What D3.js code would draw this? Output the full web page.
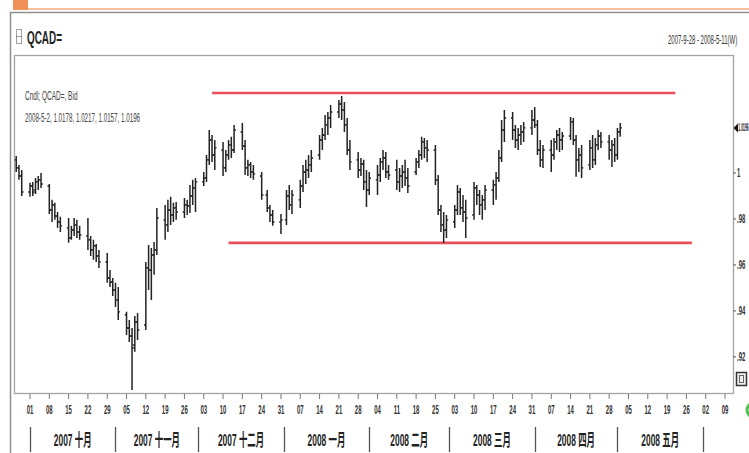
<!DOCTYPE html>
<html><head><meta charset="utf-8">
<script src="https://cdn.jsdelivr.net/npm/d3@7"></script>
<style>body{margin:0;background:#fff;}svg{display:block;}</style>
</head><body>
<svg id="c" width="749" height="453"></svg>
<script>
const dates = ["2007-09-26","2007-09-27","2007-09-28","2007-10-01","2007-10-02","2007-10-03","2007-10-04","2007-10-05","2007-10-08","2007-10-09","2007-10-10","2007-10-11","2007-10-12","2007-10-15","2007-10-16","2007-10-17","2007-10-18","2007-10-19","2007-10-22","2007-10-23","2007-10-24","2007-10-25","2007-10-26","2007-10-29","2007-10-30","2007-10-31","2007-11-01","2007-11-02","2007-11-05","2007-11-06","2007-11-07","2007-11-08","2007-11-09","2007-11-12","2007-11-13","2007-11-14","2007-11-15","2007-11-16","2007-11-19","2007-11-20","2007-11-21","2007-11-22","2007-11-23","2007-11-26","2007-11-27","2007-11-28","2007-11-29","2007-11-30","2007-12-03","2007-12-04","2007-12-05","2007-12-06","2007-12-07","2007-12-10","2007-12-11","2007-12-12","2007-12-13","2007-12-14","2007-12-17","2007-12-18","2007-12-19","2007-12-20","2007-12-21","2007-12-24","2007-12-26","2007-12-27","2007-12-28","2007-12-31","2008-01-02","2008-01-03","2008-01-04","2008-01-07","2008-01-08","2008-01-09","2008-01-10","2008-01-11","2008-01-14","2008-01-15","2008-01-16","2008-01-17","2008-01-18","2008-01-21","2008-01-22","2008-01-23","2008-01-24","2008-01-25","2008-01-28","2008-01-29","2008-01-30","2008-01-31","2008-02-01","2008-02-04","2008-02-05","2008-02-06","2008-02-07","2008-02-08","2008-02-11","2008-02-12","2008-02-13","2008-02-14","2008-02-15","2008-02-18","2008-02-19","2008-02-20","2008-02-21","2008-02-22","2008-02-25","2008-02-26","2008-02-27","2008-02-28","2008-02-29","2008-03-03","2008-03-04","2008-03-05","2008-03-06","2008-03-07","2008-03-10","2008-03-11","2008-03-12","2008-03-13","2008-03-14","2008-03-17","2008-03-18","2008-03-19","2008-03-20","2008-03-21","2008-03-24","2008-03-25","2008-03-26","2008-03-27","2008-03-28","2008-03-31","2008-04-01","2008-04-02","2008-04-03","2008-04-04","2008-04-07","2008-04-08","2008-04-09","2008-04-10","2008-04-11","2008-04-14","2008-04-15","2008-04-16","2008-04-17","2008-04-18","2008-04-21","2008-04-22","2008-04-23","2008-04-24","2008-04-25","2008-04-28","2008-04-29","2008-04-30","2008-05-01","2008-05-02"];
const open = [1.0057,1.0022,0.9987,0.9917,0.9943,0.9926,0.9961,0.9970,0.9943,0.9839,0.9861,0.9813,0.9787,0.9761,0.9717,0.9752,0.9774,0.9743,0.9726,0.9709,0.9665,0.9683,0.9639,0.9613,0.9543,0.9526,0.9491,0.9448,0.9383,0.9326,0.9291,0.9252,0.9352,0.9339,0.9587,0.9578,0.9643,0.9665,0.9796,0.9774,0.9839,0.9817,0.9848,0.9830,0.9861,0.9857,0.9900,0.9935,0.9961,0.9978,1.0057,1.0143,1.0078,1.0100,1.0022,1.0078,1.0122,1.0100,1.0178,1.0117,1.0022,1.0035,1.0004,0.9987,0.9904,0.9848,0.9817,0.9787,0.9796,0.9900,0.9861,0.9883,0.9943,1.0004,1.0013,1.0035,1.0078,1.0143,1.0165,1.0209,1.0239,1.0265,1.0300,1.0274,1.0209,1.0100,1.0057,1.0013,1.0039,0.9961,0.9926,0.9970,0.9991,1.0048,1.0065,1.0004,1.0013,0.9961,0.9987,1.0004,0.9978,1.0004,1.0048,1.0078,1.0135,1.0109,1.0100,0.9970,0.9839,0.9774,0.9752,0.9787,0.9839,0.9917,0.9848,0.9830,0.9817,0.9935,0.9904,0.9861,0.9883,0.9926,0.9948,0.9978,1.0065,1.0187,1.0239,1.0187,1.0143,1.0165,1.0178,1.0196,1.0230,1.0209,1.0100,1.0057,1.0100,1.0078,1.0135,1.0165,1.0143,1.0161,1.0222,1.0143,1.0057,1.0078,1.0035,1.0109,1.0057,1.0122,1.0161,1.0135,1.0100,1.0122,1.0078,1.0178];
const high = [1.0074,1.0035,1.0013,0.9957,0.9961,0.9978,0.9987,1.0000,0.9952,0.9883,0.9870,0.9830,0.9809,0.9804,0.9770,0.9804,0.9796,0.9770,0.9804,0.9726,0.9709,0.9691,0.9665,0.9652,0.9578,0.9543,0.9522,0.9504,0.9396,0.9361,0.9326,0.9378,0.9391,0.9613,0.9687,0.9674,0.9700,0.9848,0.9861,0.9883,0.9896,0.9870,0.9874,0.9891,0.9883,0.9948,0.9970,0.9978,1.0004,1.0078,1.0187,1.0165,1.0143,1.0135,1.0100,1.0143,1.0157,1.0209,1.0217,1.0143,1.0057,1.0048,1.0035,1.0004,0.9926,0.9861,0.9839,0.9822,0.9926,0.9948,0.9926,0.9970,1.0035,1.0057,1.0078,1.0100,1.0165,1.0196,1.0252,1.0265,1.0296,1.0317,1.0335,1.0309,1.0239,1.0143,1.0091,1.0065,1.0057,1.0013,1.0004,1.0035,1.0065,1.0100,1.0091,1.0035,1.0057,1.0022,1.0035,1.0057,1.0022,1.0065,1.0100,1.0157,1.0152,1.0143,1.0122,0.9991,0.9861,0.9830,0.9817,0.9861,0.9948,0.9935,0.9904,0.9883,0.9961,0.9948,0.9926,0.9904,0.9948,0.9970,1.0004,1.0100,1.0230,1.0274,1.0265,1.0209,1.0196,1.0209,1.0222,1.0274,1.0287,1.0230,1.0143,1.0122,1.0143,1.0152,1.0187,1.0196,1.0178,1.0243,1.0239,1.0165,1.0109,1.0122,1.0143,1.0165,1.0152,1.0187,1.0178,1.0165,1.0143,1.0152,1.0196,1.0217];
const low = [1.0004,0.9970,0.9900,0.9896,0.9900,0.9909,0.9926,0.9935,0.9822,0.9787,0.9796,0.9761,0.9743,0.9696,0.9709,0.9726,0.9717,0.9709,0.9665,0.9639,0.9622,0.9613,0.9587,0.9522,0.9504,0.9465,0.9417,0.9361,0.9295,0.9265,0.9056,0.9222,0.9274,0.9317,0.9491,0.9448,0.9557,0.9643,0.9709,0.9743,0.9774,0.9787,0.9796,0.9804,0.9817,0.9826,0.9861,0.9830,0.9943,0.9961,1.0035,1.0048,1.0013,0.9987,1.0004,1.0057,1.0065,1.0087,1.0100,0.9991,0.9987,0.9978,0.9970,0.9883,0.9830,0.9787,0.9770,0.9735,0.9774,0.9839,0.9822,0.9848,0.9917,0.9952,0.9978,1.0004,1.0057,1.0100,1.0143,1.0165,1.0196,1.0239,1.0230,1.0178,1.0078,1.0013,0.9978,0.9987,0.9926,0.9852,0.9904,0.9904,0.9961,1.0013,0.9978,0.9970,0.9926,0.9917,0.9935,0.9943,0.9913,0.9991,1.0022,1.0057,1.0065,1.0048,0.9948,0.9817,0.9743,0.9696,0.9717,0.9761,0.9817,0.9817,0.9787,0.9717,0.9796,0.9861,0.9817,0.9796,0.9839,0.9861,0.9883,0.9961,1.0048,1.0135,1.0143,1.0109,1.0100,1.0122,1.0135,1.0165,1.0196,1.0078,1.0026,1.0022,1.0004,1.0057,1.0100,1.0091,1.0100,1.0143,1.0122,0.9983,1.0004,0.9978,1.0013,1.0022,1.0035,1.0100,1.0109,1.0057,1.0026,1.0048,1.0057,1.0157];
const close = [1.0022,0.9987,0.9917,0.9943,0.9917,0.9961,0.9970,0.9952,0.9839,0.9861,0.9813,0.9787,0.9770,0.9717,0.9752,0.9774,0.9743,0.9730,0.9709,0.9665,0.9683,0.9639,0.9613,0.9543,0.9526,0.9491,0.9448,0.9396,0.9326,0.9291,0.9239,0.9352,0.9317,0.9587,0.9578,0.9643,0.9665,0.9804,0.9774,0.9839,0.9817,0.9848,0.9830,0.9861,0.9857,0.9900,0.9935,0.9961,0.9978,1.0057,1.0143,1.0078,1.0109,1.0022,1.0078,1.0122,1.0100,1.0187,1.0117,1.0022,1.0035,1.0004,0.9996,0.9904,0.9848,0.9817,0.9787,0.9796,0.9900,0.9861,0.9904,0.9943,1.0004,1.0013,1.0035,1.0065,1.0143,1.0165,1.0209,1.0239,1.0265,1.0300,1.0274,1.0209,1.0100,1.0048,1.0013,1.0039,0.9961,0.9926,0.9978,0.9991,1.0048,1.0065,1.0004,0.9991,0.9961,0.9987,1.0004,0.9978,0.9943,1.0048,1.0078,1.0135,1.0109,1.0100,0.9970,0.9839,0.9774,0.9752,0.9796,0.9839,0.9917,0.9848,0.9830,0.9804,0.9935,0.9904,0.9861,0.9883,0.9926,0.9948,0.9978,1.0065,1.0187,1.0239,1.0187,1.0143,1.0165,1.0178,1.0196,1.0230,1.0209,1.0100,1.0057,1.0100,1.0078,1.0135,1.0165,1.0143,1.0161,1.0222,1.0143,1.0057,1.0078,1.0022,1.0109,1.0057,1.0122,1.0161,1.0135,1.0100,1.0122,1.0078,1.0178,1.0196];

const yTicks = [0.92, 0.94, 0.96, 0.98, 1.00];
const weekTicks = ["2007-10-01","2007-10-08","2007-10-15","2007-10-22","2007-10-29","2007-11-05","2007-11-12","2007-11-19","2007-11-26","2007-12-03","2007-12-10","2007-12-17","2007-12-24","2007-12-31","2008-01-07","2008-01-14","2008-01-21","2008-01-28","2008-02-04","2008-02-11","2008-02-18","2008-02-25","2008-03-03","2008-03-10","2008-03-17","2008-03-24","2008-03-31","2008-04-07","2008-04-14","2008-04-21","2008-04-28","2008-05-05","2008-05-12","2008-05-19","2008-05-26","2008-06-02","2008-06-09"];
const monthStarts = ["2007-10-01","2007-11-01","2007-12-01","2008-01-01","2008-02-01","2008-03-01","2008-04-01","2008-05-01","2008-06-01"];
const monthLabels = ["2007 十月","2007 十一月","2007 十二月","2008 一月","2008 二月","2008 三月","2008 四月","2008 五月"];
const trendDates = [["2007-12-06","2008-05-22"],["2007-12-12","2008-05-28"]];
const trendValues = [1.0348, 0.9696];
const ric = "QCAD=";
const rangeText = "2007-9-28 - 2008-5-11(W)";

const parse = d3.utcParse("%Y-%m-%d");
const svg = d3.select("#c");
const x = d3.scaleUtc().domain([parse("2007-10-01"), parse("2008-06-09")]).range([30, 725]);
const y = d3.scaleLinear().domain([0.9043, 1.0513]).range([393, 55]);
const P = {l:14.5, r:733.5, t:55.5, b:393.5};

function sq(parent, px, py, str, o) {
  const g = parent.append("g").attr("transform", `translate(${px},${py}) scale(${o.sx||0.5},${o.sy||1})`);
  return g.append("text").attr("x",0).attr("y",0)
    .attr("text-anchor", o.anchor||"start")
    .attr("font-family", o.family||"'Liberation Sans', Arial, sans-serif")
    .attr("font-size", o.size||12).attr("font-weight", o.weight||"normal")
    .attr("fill", o.fill||"#333").text(str);
}

// top decoration
svg.append("line").attr("x1",13).attr("x2",749).attr("y1",9).attr("y2",9).attr("stroke","#f6c09c").attr("stroke-width",2);
svg.append("rect").attr("x",13).attr("y",0).attr("width",15).attr("height",10).attr("fill","#f0915a");
// outer frame
svg.append("path").attr("d","M10.5,453V12.5H749").attr("fill","none").attr("stroke","#8f8f8f").attr("stroke-width",1.5);

// title bar
svg.append("rect").attr("x",16.5).attr("y",29.5).attr("width",5).attr("height",14).attr("fill","none").attr("stroke","#444").attr("stroke-dasharray","1,1");
svg.append("line").attr("x1",16.5).attr("x2",21.5).attr("y1",36.5).attr("y2",36.5).attr("stroke","#444").attr("stroke-dasharray","1,1");
sq(svg, 27, 44, ric, {size:18, weight:"bold", sx:0.55, fill:"#222"});
sq(svg, 668, 44, rangeText, {size:12, sx:0.5, fill:"#333"});

// plot frame
svg.append("rect").attr("x",P.l).attr("y",P.t).attr("width",P.r-P.l).attr("height",P.b-P.t)
  .attr("fill","#fff").attr("stroke","#a3a3a3").attr("stroke-width",1.3);

svg.append("defs").append("clipPath").attr("id","clip").append("rect")
  .attr("x",P.l).attr("y",P.t).attr("width",P.r-P.l).attr("height",P.b-P.t);
const plot = svg.append("g").attr("clip-path","url(#clip)");

// info text
const last = dates.length-1;
const fmtD = d3.utcFormat("%Y-%-m-%-d");
sq(svg, 25, 100, "Cndl; " + ric + ", Bid", {size:13, sx:0.5, fill:"#444"});
sq(svg, 25, 122, `${fmtD(parse(dates[last]))}, ${open[last].toFixed(4)}, ${high[last].toFixed(4)}, ${low[last].toFixed(4)}, ${close[last].toFixed(4)}`, {size:13, sx:0.48, fill:"#444"});

// trend lines
plot.selectAll("line.trend").data(trendValues).enter().append("line").attr("class","trend")
  .attr("x1",(d,i)=>x(parse(trendDates[i][0]))).attr("x2",(d,i)=>x(parse(trendDates[i][1])))
  .attr("y1",d=>y(d)).attr("y2",d=>y(d))
  .attr("stroke","#e6505c").attr("stroke-width",2.6);

// OHLC bars
const bc = "#222";
const bars = plot.selectAll("g.bar").data(dates).enter().append("g").attr("class","bar");
bars.append("line").attr("x1",d=>x(parse(d))).attr("x2",d=>x(parse(d)))
  .attr("y1",(d,i)=>y(high[i])).attr("y2",(d,i)=>y(low[i]))
  .attr("stroke",bc).attr("stroke-width",1.5);
bars.append("line").attr("x1",d=>x(parse(d))-1.8).attr("x2",d=>x(parse(d)))
  .attr("y1",(d,i)=>y(open[i])).attr("y2",(d,i)=>y(open[i]))
  .attr("stroke",bc).attr("stroke-width",1.4);
bars.append("line").attr("x1",d=>x(parse(d))).attr("x2",d=>x(parse(d))+1.8)
  .attr("y1",(d,i)=>y(close[i])).attr("y2",(d,i)=>y(close[i]))
  .attr("stroke",bc).attr("stroke-width",1.4);

// right axis
const ya = svg.append("g");
yTicks.forEach(t => {
  ya.append("line").attr("x1",P.r).attr("x2",P.r+2.5).attr("y1",y(t)).attr("y2",y(t)).attr("stroke","#555");
  sq(ya, 737, y(t)+4, t===1 ? "1" : d3.format(".2f")(t).replace(/^0/,""), {size:12, sx:0.5, fill:"#333", weight:"bold"});
});
// current price marker
const cy = y(close[last]);
svg.append("path").attr("d",`M733.5,${cy}L738,${cy-4.5}L738,${cy+4.5}Z`).attr("fill","#111");
sq(svg, 738.3, cy+3.5, close[last].toFixed(4), {size:10, sx:0.34, fill:"#222", weight:"bold"});

// small icons
svg.append("rect").attr("x",736.5).attr("y",372.5).attr("width",10).attr("height",13).attr("fill","#eee").attr("stroke","#333").attr("stroke-width",1.5);
svg.append("rect").attr("x",739.5).attr("y",375.5).attr("width",4).attr("height",7).attr("fill","none").attr("stroke","#666");
svg.append("circle").attr("cx",754).attr("cy",410).attr("r",7).attr("fill","none").attr("stroke","#4cc24c").attr("stroke-width",3);

// x axis week ticks
const fmtDay = d3.utcFormat("%d");
const xa = svg.append("g");
weekTicks.forEach(w => {
  const px = x(parse(w));
  xa.append("line").attr("x1",px).attr("x2",px).attr("y1",394).attr("y2",399).attr("stroke","#777");
  sq(xa, px, 414, fmtDay(parse(w)), {size:12, sx:0.5, sy:1.1, anchor:"middle", fill:"#333", weight:"bold"});
});
// month row
monthStarts.forEach(m => {
  const px = Math.round(x(parse(m)))+0.5;
  xa.append("line").attr("x1",px).attr("x2",px).attr("y1",427).attr("y2",452).attr("stroke","#555").attr("stroke-width",1.3);
});
monthLabels.forEach((lab,i) => {
  const cx = (x(parse(monthStarts[i])) + x(parse(monthStarts[i+1])))/2;
  sq(xa, cx, 446, lab, {size:15, sx:0.56, sy:1.15, anchor:"middle", weight:"bold", fill:"#222",
     family:"'Liberation Sans','Noto Sans CJK SC',sans-serif"});
});
</script>
</body></html>
